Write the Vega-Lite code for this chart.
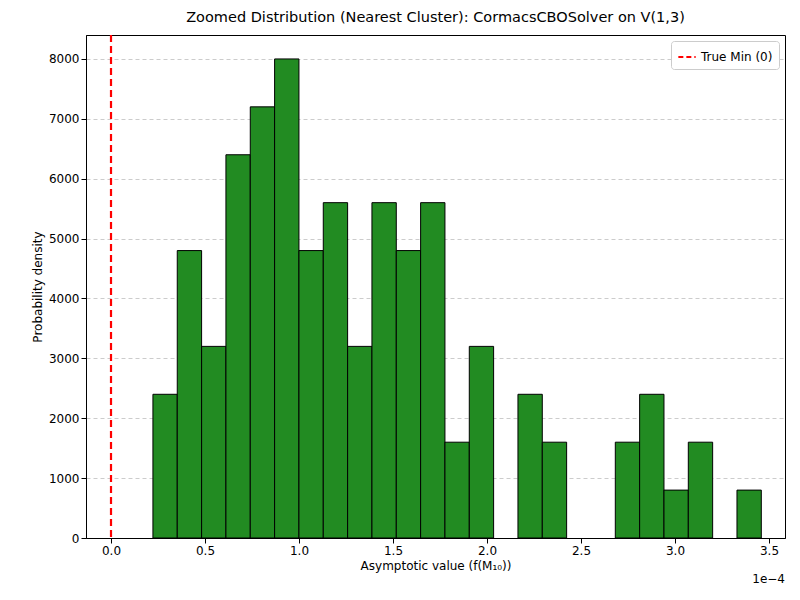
{
"$schema":"https://vega.github.io/schema/vega-lite/v6.json",
"width":699,"height":503,
"autosize":{"type":"none"},
"padding":{"left":86,"top":35,"right":15,"bottom":62},
"config":{"font":"DejaVu Sans","view":{"stroke":"black","strokeWidth":1}},
"title":{"text":"Zoomed Distribution (Nearest Cluster): CormacsCBOSolver on V(1,3)","fontSize":14.5,"fontWeight":"normal","offset":8,"color":"black"},
"layer":[
{"data":{"values":[
{"i":1,"d":2400},{"i":2,"d":4800},{"i":3,"d":3200},{"i":4,"d":6400},{"i":5,"d":7200},
{"i":6,"d":8000},{"i":7,"d":4800},{"i":8,"d":5600},{"i":9,"d":3200},{"i":10,"d":5600},
{"i":11,"d":4800},{"i":12,"d":5600},{"i":13,"d":1600},{"i":14,"d":3200},{"i":15,"d":0},
{"i":16,"d":2400},{"i":17,"d":1600},{"i":18,"d":0},{"i":19,"d":0},{"i":20,"d":1600},
{"i":21,"d":2400},{"i":22,"d":800},{"i":23,"d":1600},{"i":24,"d":0},{"i":25,"d":800}]},
"transform":[{"calculate":"0.223+(datum.i-1)*0.12944","as":"lo"},{"calculate":"datum.lo+0.12944","as":"hi"},{"filter":"datum.d>0"}],
"mark":{"type":"bar","fill":"#228b22","stroke":"black","strokeWidth":1},
"encoding":{
"x":{"field":"lo","type":"quantitative","scale":{"domain":[-0.133,3.585],"nice":false,"zero":false},
"axis":{"values":[0,0.5,1,1.5,2,2.5,3,3.5],"format":".1f","title":"Asymptotic value (f(M₁₀))","titleFontWeight":"normal","titleFontSize":12,"labelFontSize":12,"grid":false,"tickColor":"black","domainColor":"black","labelColor":"black","titleColor":"black"}},
"x2":{"field":"hi"},
"y":{"field":"d","type":"quantitative","scale":{"domain":[0,8400],"nice":false,"zero":false},
"axis":{"values":[0,1000,2000,3000,4000,5000,6000,7000,8000],"format":"d","title":"Probability density","titleFontWeight":"normal","titleFontSize":12,"labelFontSize":12,"gridDash":[4,3],"gridColor":"#cccccc","tickColor":"black","domainColor":"black","labelColor":"black","titleColor":"black"}},
"y2":{"datum":0}}},
{"data":{"values":[{"x":0,"l":"True Min (0)"}]},
"mark":{"type":"rule","strokeDash":[7,4],"strokeWidth":2.2},
"encoding":{"x":{"field":"x","type":"quantitative"},
"color":{"field":"l","type":"nominal","scale":{"range":["red"]},
"legend":{"title":null,"orient":"top-right","labelFontSize":12,"symbolType":"stroke","symbolStrokeWidth":2,"symbolDash":[5,3],"symbolSize":300,"strokeColor":"#cccccc","padding":6,"fillColor":"white","cornerRadius":3,"offset":6}}}},
{"data":{"values":[{"x":3.585,"y":-600,"t":"1e−4"}]},
"mark":{"type":"text","align":"right","baseline":"top","fontSize":12},
"encoding":{"x":{"field":"x","type":"quantitative"},"y":{"field":"y","type":"quantitative","scale":{"domain":[0,8400],"nice":false,"zero":false}},"text":{"field":"t"}}}
]}
